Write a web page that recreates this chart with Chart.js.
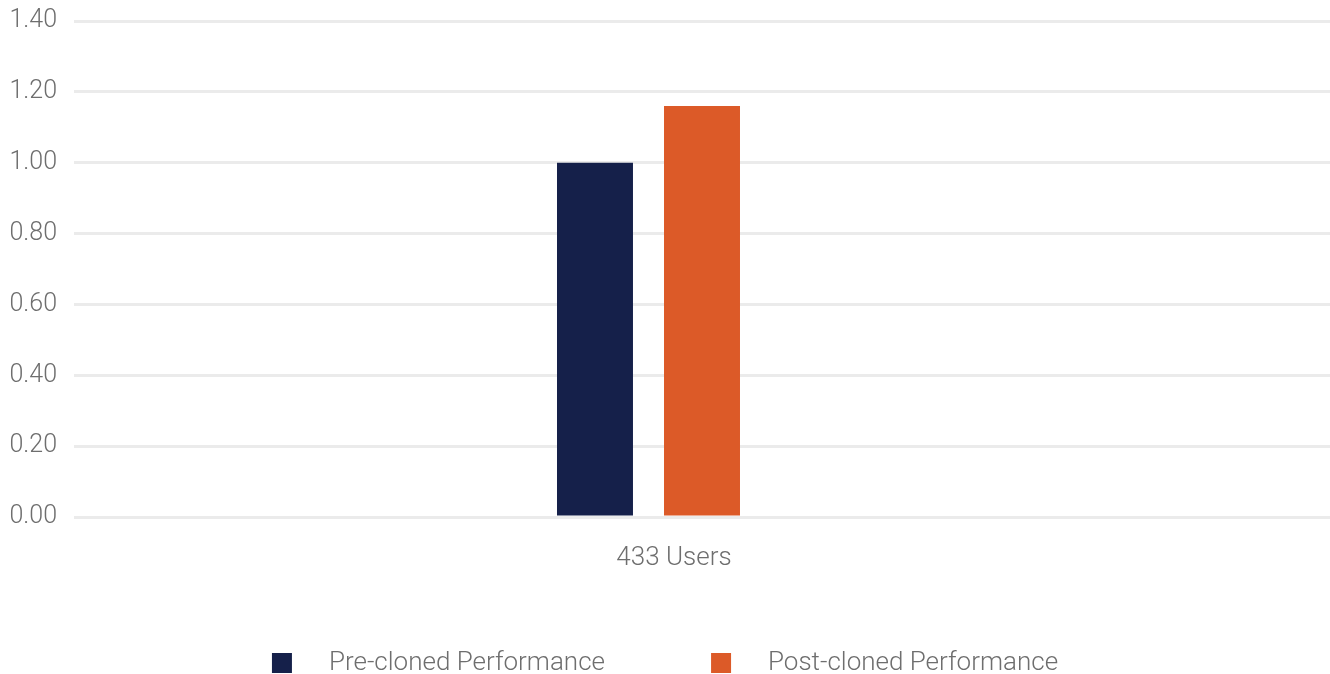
<!DOCTYPE html>
<html>
<head>
<meta charset="utf-8">
<script src="https://cdn.jsdelivr.net/npm/chart.js@4.4.1/dist/chart.umd.min.js"></script>
<style>
  html, body { margin: 0; padding: 0; background: #fff; }
  #wrap { width: 1330px; height: 674px; }
</style>
</head>
<body>
<div id="wrap"><canvas id="perfChart"></canvas></div>
<script>
// data
const categories = ['433 Users'];
const preCloned = [1.00];
const postCloned = [1.16];
const seriesNames = ['Pre-cloned Performance', 'Post-cloned Performance'];
const seriesColors = ['#15204a', '#dc5a28'];
const yMin = 0;
const yMax = 1.4;
const yStep = 0.2;

const textColor = '#6e6e6e';
const baseFont = { family: 'Roboto', size: 26, weight: 300 };

// legend swatch: square sits at the right of a wide transparent box
const swatchBox = 140;
function swatch(color) {
  const c = document.createElement('canvas');
  c.width = swatchBox;
  c.height = 20;
  const g = c.getContext('2d');
  g.fillStyle = color;
  g.fillRect(96, 0, 20, 20);
  return c;
}

new Chart(document.getElementById('perfChart'), {
  type: 'bar',
  data: {
    labels: categories,
    datasets: [
      {
        label: seriesNames[0],
        data: preCloned,
        backgroundColor: seriesColors[0],
        pointStyle: swatch(seriesColors[0])
      },
      {
        label: seriesNames[1],
        data: postCloned,
        backgroundColor: seriesColors[1],
        pointStyle: swatch(seriesColors[1])
      },
      // empty series, keeps a third slot in the group
      {
        label: '',
        data: [null],
        backgroundColor: 'rgba(0,0,0,0)'
      }
    ]
  },
  options: {
    responsive: true,
    maintainAspectRatio: false,
    animation: false,
    layout: { padding: { top: 21, bottom: -12, left: -112, right: -16 } },
    datasets: {
      bar: { categoryPercentage: 0.2556, barPercentage: 0.71 }
    },
    scales: {
      x: {
        grid: { display: false },
        border: { display: false },
        ticks: { color: textColor, font: baseFont, padding: 18, labelOffset: -28 },
        afterFit: (scale) => { scale.height = 123; }
      },
      y: {
        min: yMin,
        max: yMax,
        grid: { color: '#ebebeb', lineWidth: 3, drawTicks: false },
        border: { display: false },
        ticks: {
          stepSize: yStep,
          color: textColor,
          font: { family: 'Roboto', size: 25, weight: 300 },
          padding: 17,
          callback: (v) => v.toFixed(2)
        },
        afterFit: (scale) => {
          scale.width = 186;
          scale.paddingTop = 0;
          scale.paddingBottom = 0;
        }
      }
    },
    plugins: {
      legend: {
        position: 'bottom',
        labels: {
          usePointStyle: true,
          pointStyleWidth: swatchBox,
          padding: 10,
          color: textColor,
          font: baseFont,
          filter: (item) => item.datasetIndex < 2
        }
      },
      tooltip: { enabled: false }
    }
  }
});
</script>
</body>
</html>
